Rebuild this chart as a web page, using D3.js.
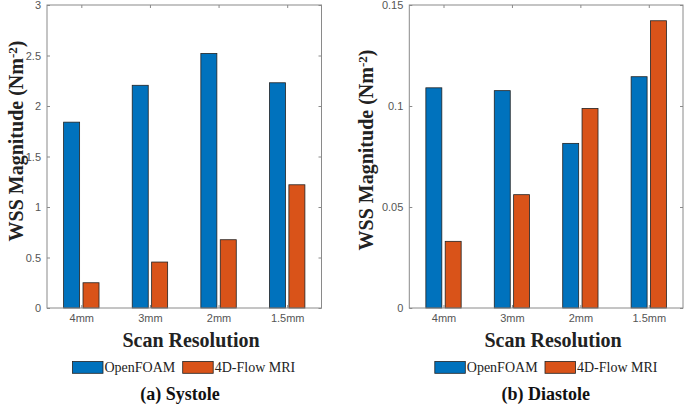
<!DOCTYPE html>
<html>
<head>
<meta charset="utf-8">
<script src="https://cdn.jsdelivr.net/npm/d3@7"></script>
<style>
  html, body { margin: 0; padding: 0; background: #fff; }
  svg { display: block; }
</style>
</head>
<body>
<svg id="chart" width="685" height="408"></svg>
<script>
// ---- data ----
const categories = ["4mm", "3mm", "2mm", "1.5mm"];
const seriesNames = ["OpenFOAM", "4D-Flow MRI"];
const systoleOpenFOAM = [1.84, 2.205, 2.52, 2.23];
const systoleMRI = [0.25, 0.455, 0.676, 1.22];
const diastoleOpenFOAM = [0.109, 0.1076, 0.0815, 0.1145];
const diastoleMRI = [0.033, 0.0561, 0.0988, 0.1422];
const systoleTicks = [0, 0.5, 1, 1.5, 2, 2.5, 3];
const diastoleTicks = [0, 0.05, 0.1, 0.15];
const colors = ["#0072BD", "#D95319"];

const serif = "'Liberation Serif', 'Times New Roman', Times, 'DejaVu Serif', serif";
const svg = d3.select("#chart");

function drawPanel(cfg) {
  const g = svg.append("g");
  const x0 = d3.scaleBand().domain(categories).range([cfg.L, cfg.R]).paddingInner(0).paddingOuter(0);
  const bw = x0.bandwidth();
  const x1 = d3.scaleBand().domain(seriesNames).range([bw * 0.242, bw * 0.758]).paddingInner(0.175).paddingOuter(0);
  const y = d3.scaleLinear().domain([0, cfg.ticks[cfg.ticks.length - 1]]).range([cfg.B, cfg.T]);

  const rows = categories.map((c, i) => ({ cat: c, vals: [cfg.a[i], cfg.b[i]] }));

  // bars
  const grp = g.selectAll("g.grp").data(rows).join("g")
    .attr("transform", d => `translate(${x0(d.cat)},0)`);
  grp.selectAll("rect").data(d => d.vals.map((v, k) => ({ s: seriesNames[k], v, k })))
    .join("rect")
    .attr("x", d => x1(d.s))
    .attr("width", x1.bandwidth())
    .attr("y", d => y(d.v))
    .attr("height", d => y(0) - y(d.v))
    .attr("fill", d => colors[d.k])
    .attr("stroke", "#222")
    .attr("stroke-width", 0.8);

  const xc = d3.scalePoint().domain(categories).range([cfg.L + bw / 2, cfg.R - bw / 2]);

  // axes
  const axColor = "#8a8a8a";
  const txtColor = "#555";
  const bottom = g.append("g").attr("transform", `translate(0,${cfg.B})`)
    .call(d3.axisBottom(xc).tickSizeInner(-3).tickSizeOuter(0).tickPadding(6));
  const left = g.append("g").attr("transform", `translate(${cfg.L},0)`)
    .call(d3.axisLeft(y).tickValues(cfg.ticks).tickFormat(d => String(+d.toFixed(3))).tickSizeInner(-3).tickSizeOuter(0).tickPadding(6));
  const top = g.append("g").attr("transform", `translate(0,${cfg.T})`)
    .call(d3.axisTop(xc).tickSizeInner(-3).tickSizeOuter(0).tickFormat(""));
  const right = g.append("g").attr("transform", `translate(${cfg.R},0)`)
    .call(d3.axisRight(y).tickValues(cfg.ticks).tickSizeInner(-3).tickSizeOuter(0).tickFormat(""));
  [bottom, left, top, right].forEach(a => {
    a.select(".domain").remove();
    a.selectAll(".tick line").attr("stroke", axColor);
    a.selectAll(".tick text").attr("fill", txtColor)
      .style("font-family", "'Liberation Sans', Arial, sans-serif").style("font-size", "11px");
  });
  g.append("rect")
    .attr("x", cfg.L).attr("y", cfg.T)
    .attr("width", cfg.R - cfg.L).attr("height", cfg.B - cfg.T)
    .attr("fill", "none").attr("stroke", axColor).attr("stroke-width", 1);

  // x-axis title
  g.append("text").attr("x", cfg.xtX).attr("y", 347)
    .attr("text-anchor", "middle")
    .style("font-family", serif)
    .style("font-weight", "bold").style("font-size", "20px").attr("fill", "#222")
    .text("Scan Resolution");

  // y-axis title
  const yl = g.append("text")
    .attr("transform", `translate(${cfg.ytX},${cfg.ytY}) rotate(-90)`)
    .attr("text-anchor", "middle")
    .style("font-family", serif)
    .style("font-weight", "bold").style("font-size", "20px").attr("fill", "#222");
  yl.append("tspan").text("WSS Magnitude (Nm");
  yl.append("tspan").attr("dy", "-0.5em").style("font-size", "13px").text("-2");
  yl.append("tspan").attr("dy", "0.31em").text(")");

  // legend
  const lg = g.append("g");
  const boxOff = [25.5, 135.7];
  seriesNames.forEach((s, k) => {
    lg.append("rect")
      .attr("x", cfg.L + boxOff[k]).attr("y", 361.5)
      .attr("width", 30.5).attr("height", 11.8)
      .attr("fill", colors[k]).attr("stroke", "#222").attr("stroke-width", 0.8);
    lg.append("text")
      .attr("x", cfg.L + boxOff[k] + 32).attr("y", 372)
      .style("font-family", serif)
      .style("font-size", "14px").attr("fill", "#222")
      .text(s);
  });

  // subtitle
  g.append("text").attr("x", cfg.subX).attr("y", 400)
    .attr("text-anchor", "middle")
    .style("font-family", serif)
    .style("font-weight", "bold").style("font-size", "18px").attr("fill", "#111")
    .text(cfg.sub);
}

drawPanel({ L: 47, R: 321.5, T: 5, B: 308, a: systoleOpenFOAM, b: systoleMRI, ticks: systoleTicks,
  xtX: 191, ytX: 23, ytY: 141, subX: 180, sub: "(a) Systole" });
drawPanel({ L: 409.3, R: 683, T: 5, B: 308, a: diastoleOpenFOAM, b: diastoleMRI, ticks: diastoleTicks,
  xtX: 553, ytX: 373, ytY: 150, subX: 545.7, sub: "(b) Diastole" });
</script>
</body>
</html>
